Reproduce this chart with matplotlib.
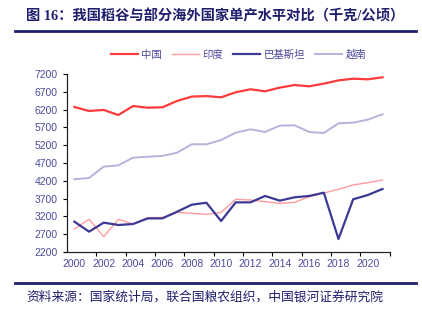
import matplotlib
matplotlib.use("Agg")
import matplotlib.pyplot as plt
import numpy as np

plt.rcParams["font.family"] = ["Liberation Sans Narrow", "Liberation Sans", "Noto Sans CJK SC"]

years = list(range(2000, 2022))
china = [6273, 6161, 6190, 6048, 6300, 6253, 6265, 6442, 6565, 6580, 6545,
         6686, 6770, 6714, 6817, 6890, 6854, 6928, 7020, 7068, 7050, 7107]
india = [2846, 3118, 2630, 3118, 2986, 3163, 3172, 3313, 3286, 3258, 3313,
         3680, 3660, 3613, 3566, 3594, 3753, 3857, 3960, 4082, 4147, 4222]
pakistan = [3052, 2771, 3024, 2958, 2986, 3144, 3144, 3331, 3528, 3584, 3070,
            3594, 3594, 3773, 3642, 3736, 3773, 3866, 2565, 3680, 3801, 3970]
vietnam = [4242, 4279, 4596, 4635, 4849, 4877, 4897, 4990, 5225, 5225, 5346,
           5552, 5646, 5571, 5749, 5759, 5571, 5543, 5815, 5833, 5917, 6068]
series_names = ["中国", "印度", "巴基斯坦", "越南"]
y_ticks = list(range(2200, 7201, 500))

navy = "#1f1f6e"
tick_col = "#4b4b9e"

fig = plt.figure(figsize=(4.22, 3.21), dpi=100)
ax = fig.add_axes([0.1588, 0.215, 0.765, 0.5545])

x = np.arange(len(years))
ax.plot(x, china, color="#ff3b3b", lw=1.6, label=series_names[0])
ax.plot(x, india, color="#ff9c9c", lw=1.0, label=series_names[1])
ax.plot(x, pakistan, color="#3d3995", lw=1.6, label=series_names[2])
ax.plot(x, vietnam, color="#b6b2dc", lw=1.4, label=series_names[3])

ax.set_xlim(-0.5, len(years) - 0.5)
ax.set_ylim(y_ticks[0], y_ticks[-1])
ax.set_yticks(y_ticks)
ax.set_yticklabels([str(v) for v in y_ticks])

# category axis: tick marks at boundaries, labels every other year
ax.set_xticks(np.arange(1.5, len(years), 2))
ax.set_xticks(x[::2], minor=True)
ax.set_xticklabels([str(y) for y in years[::2]], minor=True)
ax.set_xticklabels([])
ax.tick_params(axis="x", which="major", length=3, width=0.8, direction="out")
ax.tick_params(axis="x", which="minor", length=0, pad=5)
ax.tick_params(axis="both", which="both", labelsize=7.5, labelcolor=tick_col)
ax.tick_params(axis="y", length=3, width=0.8)
for side in ("top", "right"):
    ax.spines[side].set_visible(False)
for side in ("left", "bottom"):
    ax.spines[side].set_color("#222222")
    ax.spines[side].set_linewidth(0.9)

leg = fig.legend(loc="center", bbox_to_anchor=(0.565, 0.83), ncol=4,
                 frameon=False, fontsize=7.5, handlelength=2.6,
                 handletextpad=0.3, columnspacing=1.0)
for t in leg.get_texts():
    t.set_color(tick_col)

fig.text(0.062, 0.948, "图 16：我国稻谷与部分海外国家单产水平对比（千克/公顷）",
         fontsize=10.3, fontweight="bold", color=navy, va="center",
         family=["Liberation Serif", "Noto Sans CJK SC"])
fig.add_artist(plt.Line2D([0.036, 0.985], [0.903, 0.903], color=navy, lw=2.0))
fig.add_artist(plt.Line2D([0.036, 0.985], [0.118, 0.118], color=navy, lw=2.0))
fig.text(0.062, 0.075, "资料来源：国家统计局，联合国粮农组织，中国银河证券研究院",
         fontsize=9.2, color=navy, va="center", style="italic",
         family=["Noto Sans CJK SC"])

fig.savefig("out.png", dpi=100, facecolor="white")
